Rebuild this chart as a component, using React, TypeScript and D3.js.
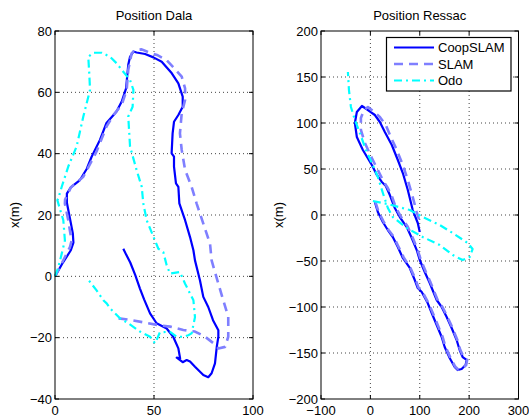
import React from 'react';
import * as d3 from 'd3';

type Pt = [number, number];

// Position Dala (left panel)
const dalaCoop: Pt[] = [
  [0, 0], [4, 4.5], [8, 8.5], [9.3, 11], [9, 14], [7.5, 19], [6, 24], [6, 27], [8, 29], [12.6, 31.4],
  [16, 35], [18.5, 39], [22.7, 44.5], [26, 50], [31, 53.7], [33.7, 57], [35.9, 61.3], [37, 69],
  [37.9, 71.6], [39.6, 73.3], [41.2, 73], [45.5, 72.5], [49.7, 71.4], [53.9, 70], [59, 66.2],
  [62.3, 62.9], [64.5, 58.6], [64.5, 55.3], [62.3, 52.6], [60.1, 50.4], [59.4, 46.6], [58.9, 40.1],
  [60.1, 39], [60.1, 35.8], [61.1, 30.3], [62.3, 29.2], [62.8, 23.8], [65.7, 18.3], [68.2, 12.8],
  [69.9, 8.5], [70.7, 5.2], [73.2, -1.3], [74.9, -6.7], [77.4, -10], [79.8, -14.3], [82.5, -17.6],
  [82.5, -19.7], [81.7, -23], [80.8, -28.4], [79.1, -31.6], [77.4, -32.9], [74.9, -32.2], [70.7, -29.5],
  [68.2, -27.8], [66.5, -27.3], [64.5, -28], [61.5, -26.5], [63.2, -26.8], [62.3, -23.5], [59.7, -19.7],
  [56.4, -17], [51.3, -15.3], [48, -12.1], [45, -7.5], [42.9, -4], [40.5, 0.5], [38, 4.5], [36, 7], [34.5, 9],
];
const dalaSlam: Pt[] = [
  [0, 0], [4, 5], [7.6, 9.6], [8.4, 11.7], [7.5, 15], [6.7, 18.3], [5, 23.7], [5.1, 25], [8, 29],
  [14.3, 32.5], [18, 37], [21, 40.7], [26, 48.8], [29.5, 52.6], [33.7, 55.9], [36.2, 60.8], [37, 67.3],
  [38.7, 72.7], [40.4, 73.8], [43.8, 74], [47.5, 73], [51.5, 72.2], [56.4, 70.5], [60, 68], [64, 65.1],
  [65.7, 61.3], [65.7, 57.5], [64, 53.2], [63.1, 46.6], [64, 41.2], [65.7, 34.7], [69, 29.2], [71.5, 23.8],
  [74.9, 17.2], [78.3, 10.6], [79.1, 5.2], [82.5, -2.4], [84.2, -6.1], [87.5, -13.2], [87.5, -19.7],
  [85.9, -23], [82.5, -23.5], [80, -21.8], [75.8, -19.7], [70.7, -18], [64.8, -17.5], [58.1, -16.4],
  [52.2, -15.9], [46.3, -15.2], [37.9, -14.2], [32, -13.7], [31, -13.4],
];
const dalaOdo: Pt[] = [
  [0, 0], [1.7, 3], [3.4, 7.4], [5, 11.7], [4.2, 18.3], [2.2, 22.6], [1.2, 24.8], [1.7, 25.5], [3.4, 29.2],
  [6.7, 35.8], [10.9, 42.3], [14.3, 52.1], [17.7, 60.8], [17.3, 66.2], [16.8, 71.6], [19.4, 72.9],
  [23.6, 72.9], [27.8, 71.6], [31.1, 69.5], [34.5, 66.7], [37.9, 64], [39.6, 60.8], [39.2, 55.3],
  [37, 52.1], [37.9, 42.3], [41.2, 34.7], [43.8, 29.2], [44.6, 23.8], [46.3, 18.3], [50.5, 11.7],
  [52.2, 9], [54.7, 7.9], [56.4, 3.6], [58.1, 0.9], [63.1, 1.4], [65.7, -2.4], [69.9, -7.8], [70.7, -13.3],
  [69, -18.6], [67.3, -19.2], [64.8, -19.7], [61.5, -19.7], [58.1, -18.1], [53, -18.2], [51.3, -20.8],
  [50.5, -21.8], [48, -19.7], [42.9, -18], [37, -15.3], [32.8, -13.7], [27.8, -10.4], [26.1, -8.8],
  [24.4, -7.8], [21, -4.6], [16.8, -1.1],
];

// Position Ressac (right panel)
const ressacCoop: Pt[] = [
  [9.1, 14.1], [15.1, 3.3], [25.2, -7.6], [35.3, -16.3], [45.4, -23.9], [55.6, -34.8], [65.7, -46.7],
  [79.8, -57.6], [89.9, -70.7], [96, -79.4], [104, -83.7], [116.1, -95.7], [124.2, -106.5], [134.3, -119.6],
  [144.4, -132.6], [150.5, -143.5], [160.6, -155.5], [170.7, -165.2], [176.8, -168.5], [184.8, -167.4],
  [192.9, -163.1], [194.9, -157.6], [186.9, -154.4], [180.8, -146.8], [174.7, -135.9], [164.6, -122.8],
  [154.5, -110.9], [144.4, -100], [134.3, -92.4], [120.2, -73.9], [110.1, -62], [100, -48.9], [93.9, -38.1],
  [83.8, -25], [73.7, -13.1], [59.6, -2.2], [49.5, 7.6], [39.4, 21.7], [31.3, 31.5], [23.2, 35.9],
  [13.1, 43.5], [3, 54.3], [-15.2, 70.7], [-27.4, 84.8], [-31.4, 100], [-27.4, 112], [-17.1, 118.5],
  [-5, 114.1], [9.1, 108.7], [19.2, 101.1], [29.3, 90.2], [43.4, 76.1], [55.6, 59.8], [65.7, 45.6],
  [75.8, 27.2], [85.8, 5.4], [96, -8.7], [100, -18.5],
];
const ressacSlam: Pt[] = [
  [10, 14.5], [16.5, 3.5], [26.5, -7], [36.5, -16], [47, -23.5], [57, -34.5], [67.5, -46], [81, -57.5],
  [91.5, -70], [97.5, -79], [105.5, -83.5], [117.5, -95.5], [126, -106], [136, -119], [146, -132],
  [152, -143], [162, -155], [172, -165], [178, -168], [186, -167], [194, -163], [196, -157.5],
  [188.5, -154], [182, -146.5], [176, -135.5], [166, -122.5], [156, -110.5], [146, -100], [136, -92],
  [122, -73.5], [112, -61.5], [102, -48.5], [95.5, -37.5], [85.5, -24.5], [75.5, -12.5], [61.5, -1.5],
  [51.5, 8], [43.4, 20.6], [35.3, 29.3], [25.2, 38], [15.1, 48.9], [3, 61.9], [-11.1, 78.3], [-19.2, 92.4],
  [-19.2, 105.4], [-13.1, 114.1], [-5, 117.4], [5, 113.1], [19.2, 106.5], [31.3, 97.8], [41.4, 84.8],
  [53.5, 70.7], [65.7, 54.3], [75.8, 38], [85.8, 19.5], [93.9, 3.2], [100, -7.6],
];
const ressacOdo: Pt[] = [
  [5.1, 15.2], [35.4, 11.9], [79.8, 5.4], [106, -2.2], [140.4, -10.9], [166.7, -19.6], [197, -30.4],
  [207, -37], [201, -45.7], [186.9, -49], [166.7, -43.5], [140.4, -32.6], [106, -23.9], [73.7, -14.1],
  [45.5, -2.2], [35.4, 7.6], [25.3, 23.9], [15.2, 41.3], [3, 56.5], [-9.1, 70.6], [-21.2, 89.1],
  [-31.3, 103.3], [-39.4, 117.4], [-43.4, 135.9], [-45.5, 155.4],
];

const dalaXTicks = [0, 50, 100];
const dalaYTicks = [-40, -20, 0, 20, 40, 60, 80];
const ressacXTicks = [-100, 0, 100, 200, 300];
const ressacYTicks = [-200, -150, -100, -50, 0, 50, 100, 150, 200];

const legendNames = ['CoopSLAM', 'SLAM', 'Odo'];

const FONT = '"Liberation Sans", Arial, Helvetica, sans-serif';
const styles = [
  { color: '#0000ff', width: 2.2, dash: '' },
  { color: '#7f7fff', width: 2.6, dash: '9,6' },
  { color: '#00ffff', width: 2.2, dash: '8,4,2,4' },
];

const TOP = 31;
const BOTTOM = 399;

const fmt = (v: number) => (v < 0 ? '\u2212' + Math.abs(v) : String(v));

function Panel(props: {
  left: number; right: number; title: string;
  xDomain: [number, number]; yDomain: [number, number];
  xTicks: number[]; yTicks: number[];
  series: Pt[][]; legend?: boolean; labelX: number;
}) {
  const { left, right, title, xDomain, yDomain, xTicks, yTicks, series, legend, labelX } = props;
  const x = d3.scaleLinear().domain(xDomain).range([left, right]);
  const y = d3.scaleLinear().domain(yDomain).range([BOTTOM, TOP]);
  const line = d3.line<Pt>().x(d => x(d[0])).y(d => y(d[1]));
  const tk = 4;
  return (
    <g>
      {/* grid */}
      {xTicks.slice(1, -1).map(t => (
        <line key={'gx' + t} x1={x(t)} x2={x(t)} y1={TOP} y2={BOTTOM}
          stroke="#444" strokeWidth={1} strokeDasharray="1,3" />
      ))}
      {yTicks.slice(1, -1).map(t => (
        <line key={'gy' + t} x1={left} x2={right} y1={y(t)} y2={y(t)}
          stroke="#444" strokeWidth={1} strokeDasharray="1,3" />
      ))}
      {/* data */}
      {series.map((s, i) => (
        <path key={'s' + i} d={line(s) || ''} fill="none" stroke={styles[i].color}
          strokeWidth={styles[i].width} strokeDasharray={styles[i].dash || undefined}
          strokeLinejoin="round" />
      ))}
      {/* ticks */}
      {xTicks.map(t => (
        <g key={'tx' + t}>
          <line x1={x(t)} x2={x(t)} y1={BOTTOM} y2={BOTTOM - tk} stroke="#000" />
          <line x1={x(t)} x2={x(t)} y1={TOP} y2={TOP + tk} stroke="#000" />
          <text x={x(t)} y={BOTTOM + 16} textAnchor="middle" fontSize={13} fontFamily={FONT}>{fmt(t)}</text>
        </g>
      ))}
      {yTicks.map(t => (
        <g key={'ty' + t}>
          <line x1={left} x2={left + tk} y1={y(t)} y2={y(t)} stroke="#000" />
          <line x1={right} x2={right - tk} y1={y(t)} y2={y(t)} stroke="#000" />
          <text x={left - 3} y={y(t) + 4.5} textAnchor="end" fontSize={13} fontFamily={FONT}>{fmt(t)}</text>
        </g>
      ))}
      <rect x={left} y={TOP} width={right - left} height={BOTTOM - TOP} fill="none" stroke="#000" strokeWidth={1} />
      <text x={(left + right) / 2} y={20} textAnchor="middle" fontSize={13} fontFamily={FONT}>{title}</text>
      <text transform={`translate(${labelX},${(TOP + BOTTOM) / 2}) rotate(-90)`} textAnchor="middle"
        fontSize={13} fontFamily={FONT}>x(m)</text>
      {legend && (
        <g>
          <rect x={386.5} y={37.5} width={124.5} height={53.5} fill="#fff" stroke="#000" strokeWidth={1.2} />
          {legendNames.map((n, i) => {
            const ly = 47.5 + i * 16.5;
            return (
              <g key={n}>
                <line x1={394} x2={434} y1={ly} y2={ly} stroke={styles[i].color}
                  strokeWidth={styles[i].width} strokeDasharray={styles[i].dash || undefined} />
                <text x={438} y={ly + 4.5} fontSize={13} fontFamily={FONT}>{n}</text>
              </g>
            );
          })}
        </g>
      )}
    </g>
  );
}

export default function App() {
  return (
    <div style={{ position: 'fixed', left: 0, top: 0, background: '#fff' }}>
      <svg width={529} height={418} style={{ display: 'block' }}>
        <rect width={529} height={418} fill="#fff" />
        <Panel left={55} right={253} title="Position Dala" xDomain={[0, 100]} yDomain={[-40, 80]}
          xTicks={dalaXTicks} yTicks={dalaYTicks} series={[dalaCoop, dalaSlam, dalaOdo]} labelX={19} />
        <Panel left={321} right={518.5} title="Position Ressac" xDomain={[-100, 300]} yDomain={[-200, 200]}
          xTicks={ressacXTicks} yTicks={ressacYTicks} series={[ressacCoop, ressacSlam, ressacOdo]}
          legend labelX={283} />
      </svg>
    </div>
  );
}
